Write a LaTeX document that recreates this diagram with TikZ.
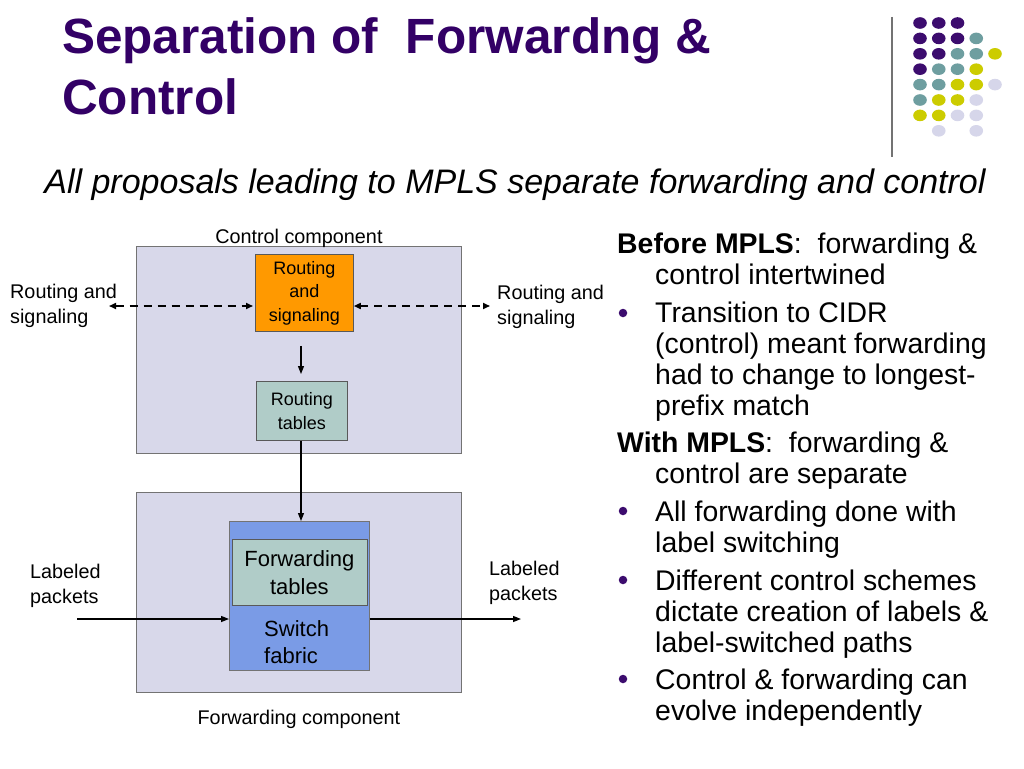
\documentclass[tikz,border=0pt]{standalone}
\usepackage{fontspec}
\setmainfont{Liberation Sans}
\usetikzlibrary{arrows.meta, positioning}
\definecolor{slPurple}{RGB}{51,0,102}
\definecolor{slDotPurple}{RGB}{60,12,110}
\definecolor{slTeal}{RGB}{110,158,160}
\definecolor{slYellow}{RGB}{204,204,0}
\definecolor{slLilac}{RGB}{214,214,234}
\definecolor{slBox}{RGB}{216,216,234}
\definecolor{slOrange}{RGB}{255,153,0}
\definecolor{slTable}{RGB}{176,204,200}
\definecolor{slFabric}{RGB}{122,155,230}

\begin{document}
\begin{tikzpicture}[
    x=1pt, y=-1pt,
    title/.style={anchor=base west, inner sep=0pt, text=slPurple,
                  font=\bfseries\fontsize{49.5}{60}\selectfont},
    body/.style={anchor=base west, inner sep=0pt, align=left,
                 font=\fontsize{28.4}{31}\selectfont},
    bullet/.style={circle, fill=slDotPurple, inner sep=0pt, minimum size=8.5pt},
    small/.style={inner sep=0pt, align=left, font=\fontsize{19.8}{25}\selectfont},
    panel/.style={draw=black!55, fill=slBox, line width=0.8pt, anchor=north west,
                  inner sep=0pt},
    blk/.style={draw=black!65, line width=0.8pt, inner sep=0pt, align=center,
                font=\fontsize{18}{23.5}\selectfont},
    flow/.style={-{Triangle[length=8pt,width=6pt]}, line width=1.3pt},
    sig/.style={{Triangle[length=7pt,width=6pt]}-{Triangle[length=7pt,width=6pt]},
                line width=1.6pt, dash pattern=on 8pt off 6pt}
]
\useasboundingbox (0,0) rectangle (1024,768);
\fill[white] (0,0) rectangle (1024,768);

% title and dot pattern
\node[title] (title1) at (62,54) {Separation of\ \ Forwardng \&};
\node[title] (title2) at (62,114) {Control};
\draw[black!55, line width=1.5pt] (892,17) -- (892,157);
\foreach \c/\r/\col in {
  0/0/slDotPurple, 1/0/slDotPurple, 2/0/slDotPurple,
  0/1/slDotPurple, 1/1/slDotPurple, 2/1/slDotPurple, 3/1/slTeal,
  0/2/slDotPurple, 1/2/slDotPurple, 2/2/slTeal, 3/2/slTeal, 4/2/slYellow,
  0/3/slDotPurple, 1/3/slTeal, 2/3/slTeal, 3/3/slYellow,
  0/4/slTeal, 1/4/slTeal, 2/4/slYellow, 3/4/slYellow, 4/4/slLilac,
  0/5/slTeal, 1/5/slYellow, 2/5/slYellow, 3/5/slLilac,
  0/6/slYellow, 1/6/slYellow, 2/6/slLilac, 3/6/slLilac,
  1/7/slLilac, 3/7/slLilac}
{
   \fill[\col] (920+\c*18.75, 23+\r*15.4) ellipse (6.8 and 5.8);
}

\node[anchor=base, inner sep=0pt, font=\itshape\fontsize{34}{40}\selectfont]
     (sub) at (515,193) {All proposals leading to MPLS separate forwarding and control};

% control component
\node[panel, minimum width=325pt, minimum height=207pt] (ctrl) at (136,246) {};
\node[small, anchor=south] (ctrllab) at ([yshift=-2pt]ctrl.north) {Control component};
\node[blk, fill=slOrange, minimum width=98pt, minimum height=77pt, anchor=north west]
     (rs) at (255,254) {Routing\\and\\signaling};
\node[blk, fill=slTable, minimum width=91pt, minimum height=59pt, anchor=north west]
     (rt) at (256,381) {Routing\\tables};
\node[small, anchor=base west] (rsL) at (10,323) {Routing and\\signaling};
\node[small, anchor=base west] (rsR) at (497,324) {Routing and\\signaling};
\coordinate (sigL) at (109,306);
\coordinate (sigR) at (490,306);
\draw[sig, shorten >=2pt] (sigL) -- (sigL -| rs.west);
\draw[sig] (sigR -| rs.east) -- (sigR);
\draw[flow, shorten <=14pt, shorten >=7pt] (rs.south -| 301,0) -- (rt.north -| 301,0);

% forwarding component
\node[panel, minimum width=325pt, minimum height=200pt] (fwd) at (136,492) {};
\node[small, anchor=north] (fwdlab) at ([yshift=-17pt]fwd.south) {Forwarding component};
\node[draw=black!55, fill=slFabric, line width=0.8pt, inner sep=0pt, anchor=north west,
      minimum width=140pt, minimum height=149pt] (fabric) at (229,521) {};
\node[blk, fill=slTable, minimum width=135pt, minimum height=66pt, anchor=north west,
      font=\fontsize{22}{28}\selectfont] (ftab) at (231.5,539) {Forwarding\\tables};
\node[inner sep=0pt, align=left, font=\fontsize{22}{27}\selectfont, anchor=base west]
     (swtxt) at (264,663) {Switch\\fabric};
\draw[flow] (rt.south -| 301,0) -- (fabric.north -| 301,0);
\node[small, anchor=base west] (lpL) at (30,603) {Labeled\\packets};
\node[small, anchor=base west] (lpR) at (489,600) {Labeled\\packets};
\coordinate (inL) at (77,619);
\coordinate (outR) at (521,619);
\draw[flow] (inL) -- (inL -| fabric.west);
\draw[flow] (fabric.east |- outR) -- (outR);

% right column text
\node[body] (before) at (617,253) {\textbf{Before MPLS}:\ \ forwarding \&};
\node[body] (before2) at (655,284) {control intertwined};
\node[body] (p1) at (655,415) {Transition to CIDR\\(control) meant forwarding\\had to change to longest-\\prefix match};
\node[body] (with) at (617,452) {\textbf{With MPLS}:\ \ forwarding \&};
\node[body] (with2) at (655,483) {control are separate};
\node[body] (p2) at (655,552) {All forwarding done with\\label switching};
\node[body] (p3) at (655,652) {Different control schemes\\dictate creation of labels \&\\label-switched paths};
\node[body] (p4) at (655,720) {Control \& forwarding can\\evolve independently};
\foreach \y/\nm in {313/b1, 511/b2, 580/b3, 679/b4}
  \node[bullet] (\nm) at (623,\y) {};
\end{tikzpicture}
\end{document}
